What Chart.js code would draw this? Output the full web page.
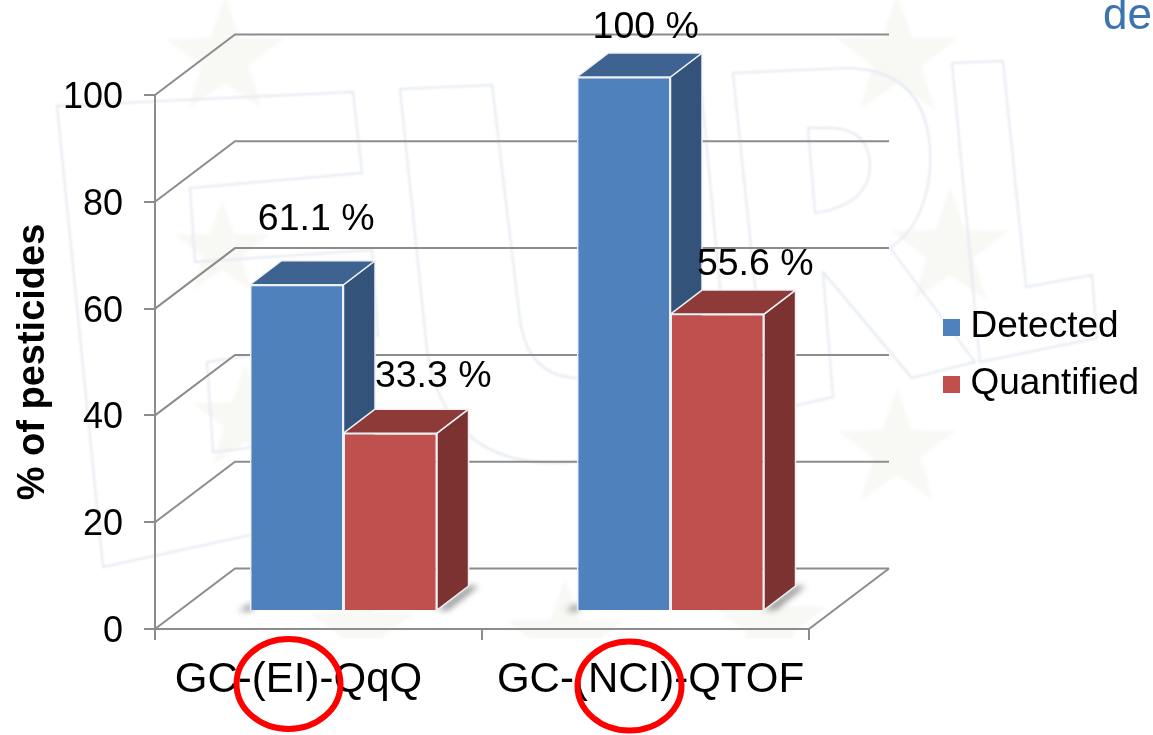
<!DOCTYPE html>
<html>
<head>
<meta charset="utf-8">
<style>html,body{margin:0;padding:0;background:#fff}canvas{display:block}</style>
<script src="https://cdn.jsdelivr.net/npm/chart.js@4"></script>
</head>
<body>
<canvas id="chart" width="1153" height="735"></canvas>
<script>
const categories = ['GC-(EI)-QqQ', 'GC-(NCI)-QTOF'];
const detected = [61.1, 100];
const quantified = [33.3, 55.6];
const yTicks = [0, 20, 40, 60, 80, 100];

const FONT = '"Liberation Sans", Arial, sans-serif';
// Depth of the back wall, the extruded bars, and the bars' seat on the floor.
const WALL = {dx: 80, dy: -60.5};
const BAR_DEPTH = {dx: 31.5, dy: -24};
const BAR_SEAT = {dx: 25, dy: -18};
const SHADES = [
  {side: '#33537A', top: '#3F6391'},
  {side: '#7B3230', top: '#8E3A38'}
];
// Label placement relative to each bar's top centre, by dataset then category.
const LABEL_NUDGE = [
  [[19.5, -65], [22, -49.5]],
  [[43, -57], [38, -49]]
];

function star(ctx, cx, cy, r) {
  ctx.beginPath();
  for (let i = 0; i < 10; i++) {
    const rad = i % 2 ? r * 0.4 : r;
    const a = -Math.PI / 2 + i * Math.PI / 5;
    ctx[i ? 'lineTo' : 'moveTo'](cx + rad * Math.cos(a), cy + rad * Math.sin(a));
  }
  ctx.closePath();
  ctx.fill();
}

// Pale "EURL" logo with its stars, sitting behind the plot.
const watermark = {
  id: 'watermark',
  beforeDraw(chart) {
    const ctx = chart.ctx;
    ctx.save();
    ctx.beginPath();
    ctx.rect(0, 0, 1153, 638);
    ctx.clip();
    ctx.filter = 'blur(1.5px)';
    ctx.fillStyle = '#f8f8f5';
    [[225, 58, 62], [897, 58, 64], [950, 250, 62], [897, 450, 62],
     [222, 250, 50], [245, 420, 55], [362, 630, 55], [565, 640, 62], [770, 625, 60]]
      .forEach(s => star(ctx, s[0], s[1], s[2]));
    ctx.filter = 'blur(1px)';
    ctx.strokeStyle = '#e3e9f0';
    ctx.lineWidth = 2;
    ctx.lineJoin = 'round';
    ctx.stroke(new Path2D('M57,106 L353,92 L362,173 L190,188 L195,262 L372,250 L378,335 L207,362 L213,452 L385,432 L398,503 L103,567 Z'));
    ctx.stroke(new Path2D('M400,89 L492,85 L520,320 Q528,375 575,378 Q620,375 615,320 L600,80 L700,75 L722,310 Q730,455 560,463 Q445,465 427,350 Z'));
    ctx.stroke(new Path2D('M733,73 L847,68 Q935,70 930,170 Q925,225 890,248 L975,362 L912,378 L823,272 L833,397 L768,412 Z M808,128 L833,128 Q870,130 870,167 Q868,205 815,213 Z'));
    ctx.stroke(new Path2D('M952,63 L1003,61 L1026,287 L1092,275 L1097,338 L980,362 Z'));
    ctx.restore();

    // Clipped heading fragment at the top right edge
    ctx.save();
    ctx.font = '44px ' + FONT;
    ctx.fillStyle = '#3B74AF';
    ctx.textBaseline = 'alphabetic';
    ctx.fillText('de', 1103, 29);
    ctx.restore();
  }
};

// Slanted floor and wall rules tied to the value scale.
const walls = {
  id: 'walls',
  beforeDatasetsDraw(chart) {
    const {ctx, scales: {x, y}} = chart;
    ctx.save();
    ctx.strokeStyle = '#8c8c8c';
    ctx.lineWidth = 2;
    yTicks.forEach(v => {
      const py = y.getPixelForValue(v);
      ctx.beginPath();
      ctx.moveTo(x.left, py);
      ctx.lineTo(x.left + WALL.dx, py + WALL.dy);
      ctx.lineTo(x.right + WALL.dx, py + WALL.dy);
      ctx.stroke();
    });
    const floor = y.getPixelForValue(0);
    ctx.beginPath();
    ctx.moveTo(x.right, floor);
    ctx.lineTo(x.right + WALL.dx, floor + WALL.dy);
    ctx.stroke();

    // Soft contact shadow on the floor around each bar pair
    ctx.filter = 'blur(3px)';
    ctx.fillStyle = 'rgba(70,70,70,0.6)';
    const blue = chart.getDatasetMeta(0).data;
    const red = chart.getDatasetMeta(1).data;
    blue.forEach((bar, i) => {
      const left = bar.x - bar.width / 2 + BAR_SEAT.dx;
      const right = red[i].x + red[i].width / 2 + BAR_SEAT.dx;
      const base = bar.base + BAR_SEAT.dy;
      ctx.beginPath();
      ctx.moveTo(left - 12, base + 1);
      ctx.lineTo(left + 2, base - 7);
      ctx.lineTo(left + 2, base + 1);
      ctx.closePath();
      ctx.fill();
      ctx.beginPath();
      ctx.moveTo(right, base);
      ctx.lineTo(right + BAR_DEPTH.dx, base + BAR_DEPTH.dy);
      ctx.lineTo(right + BAR_DEPTH.dx + 10, base + BAR_DEPTH.dy);
      ctx.lineTo(right + 11, base);
      ctx.closePath();
      ctx.fill();
    });
    ctx.restore();
  }
};

// Seats every bar on the floor and extrudes it with a top and side face.
const extrude = {
  id: 'extrude',
  beforeDatasetsDraw(chart) {
    const ctx = chart.ctx;
    ctx.save();
    ctx.translate(BAR_SEAT.dx, BAR_SEAT.dy);
    chart.data.datasets.forEach((ds, d) => {
      const shade = SHADES[d];
      chart.getDatasetMeta(d).data.forEach(bar => {
        const l = bar.x - bar.width / 2, r = bar.x + bar.width / 2;
        const t = bar.y, b = bar.base;
        const {dx, dy} = BAR_DEPTH;
        ctx.lineWidth = 1.5;
        ctx.strokeStyle = '#eef1f4';
        ctx.lineJoin = 'round';
        ctx.fillStyle = shade.side;
        ctx.beginPath();
        ctx.moveTo(r, t); ctx.lineTo(r + dx, t + dy); ctx.lineTo(r + dx, b + dy); ctx.lineTo(r, b);
        ctx.closePath();
        ctx.fill(); ctx.stroke();
        ctx.fillStyle = shade.top;
        ctx.beginPath();
        ctx.moveTo(l, t); ctx.lineTo(l + dx, t + dy); ctx.lineTo(r + dx, t + dy); ctx.lineTo(r, t);
        ctx.closePath();
        ctx.fill(); ctx.stroke();
      });
    });
  },
  afterDatasetsDraw(chart) {
    chart.ctx.restore();
  }
};

// Value labels and the red rings around the ionisation modes.
const overlays = {
  id: 'overlays',
  afterDraw(chart) {
    const {ctx, scales: {x}} = chart;
    ctx.save();
    ctx.font = '37.5px ' + FONT;
    ctx.fillStyle = '#000';
    ctx.textAlign = 'center';
    ctx.textBaseline = 'middle';
    chart.data.datasets.forEach((ds, d) => {
      chart.getDatasetMeta(d).data.forEach((bar, i) => {
        const [nx, ny] = LABEL_NUDGE[d][i];
        ctx.fillText(ds.data[i] + ' %', bar.x + BAR_SEAT.dx + nx, bar.y + BAR_SEAT.dy + ny);
      });
    });
    ctx.strokeStyle = '#FF0000';
    ctx.lineWidth = 6;
    [[-30, 684, 52, 45], [-16, 686, 52, 44.5]].forEach((ring, i) => {
      ctx.beginPath();
      ctx.ellipse(x.getPixelForValue(i) + ring[0], ring[1], ring[2], ring[3], 0, 0, Math.PI * 2);
      ctx.stroke();
    });
    ctx.restore();
  }
};

// Moves the legend beside the plot and offsets the axis labels.
const placement = {
  id: 'placement',
  afterLayout(chart) {
    const lg = chart.legend;
    const w = lg.right - lg.left, h = lg.bottom - lg.top;
    lg.left = 931; lg.right = lg.left + w;
    lg.top = 288.5; lg.bottom = lg.top + h;
    const items = chart.scales.x.getLabelItems();
    if (items[0]) items[0].options.translation[0] -= 20;
    if (items[1]) items[1].options.translation[0] += 5;
    chart.scales.y.getLabelItems().forEach(it => { it.options.translation[1] += 3; });
  }
};

function swatch(color) {
  const c = document.createElement('canvas');
  c.width = c.height = 17;
  const g = c.getContext('2d');
  g.fillStyle = color;
  g.fillRect(0, 0, 17, 17);
  return c;
}

new Chart(document.getElementById('chart'), {
  type: 'bar',
  data: {
    labels: categories,
    datasets: [
      {label: 'Detected', data: detected, backgroundColor: '#4F81BD', borderColor: '#eef1f4', borderWidth: 1.5, clip: false},
      {label: 'Quantified', data: quantified, backgroundColor: '#C0504D', borderColor: '#eef1f4', borderWidth: 1.5, clip: false}
    ]
  },
  plugins: [watermark, walls, extrude, placement, overlays],
  options: {
    responsive: false,
    animation: false,
    events: [],
    layout: {padding: {top: 95, right: 344, bottom: 0, left: 0}},
    datasets: {bar: {categoryPercentage: 0.572, barPercentage: 1}},
    plugins: {
      tooltip: {enabled: false},
      title: {display: false},
      legend: {
        display: true,
        position: 'chartArea',
        align: 'start',
        labels: {
          color: '#000',
          font: {family: FONT, size: 37},
          padding: 20,
          usePointStyle: true,
          pointStyleWidth: 1,
          generateLabels: c => c.data.datasets.map((d, i) => ({
            text: d.label, datasetIndex: i, hidden: false, lineWidth: 0,
            fillStyle: d.backgroundColor, strokeStyle: d.backgroundColor,
            pointStyle: swatch(d.backgroundColor)
          }))
        }
      }
    },
    scales: {
      x: {
        afterFit(s) { s.height = 106; },
        grid: {drawOnChartArea: false, drawTicks: true, tickLength: 11, color: '#8c8c8c', lineWidth: 2, offset: true},
        border: {display: true, color: '#8c8c8c', width: 2},
        ticks: {color: '#000', font: {family: FONT, size: 42}, padding: 15, maxRotation: 0, autoSkip: false}
      },
      y: {
        min: 0,
        max: 100,
        afterFit(s) { s.width = 155; },
        afterBuildTicks(s) { s.ticks = yTicks.map(v => ({value: v})); },
        grid: {drawOnChartArea: false, drawTicks: true, tickLength: 11, color: '#8c8c8c', lineWidth: 2},
        border: {display: true, color: '#8c8c8c', width: 2},
        ticks: {color: '#000', font: {family: FONT, size: 36}, padding: 21},
        title: {display: true, text: '% of pesticides', color: '#000', font: {family: FONT, size: 38, weight: 'bold'}, padding: {top: 11, bottom: 0}}
      }
    }
  }
});
</script>
</body>
</html>
